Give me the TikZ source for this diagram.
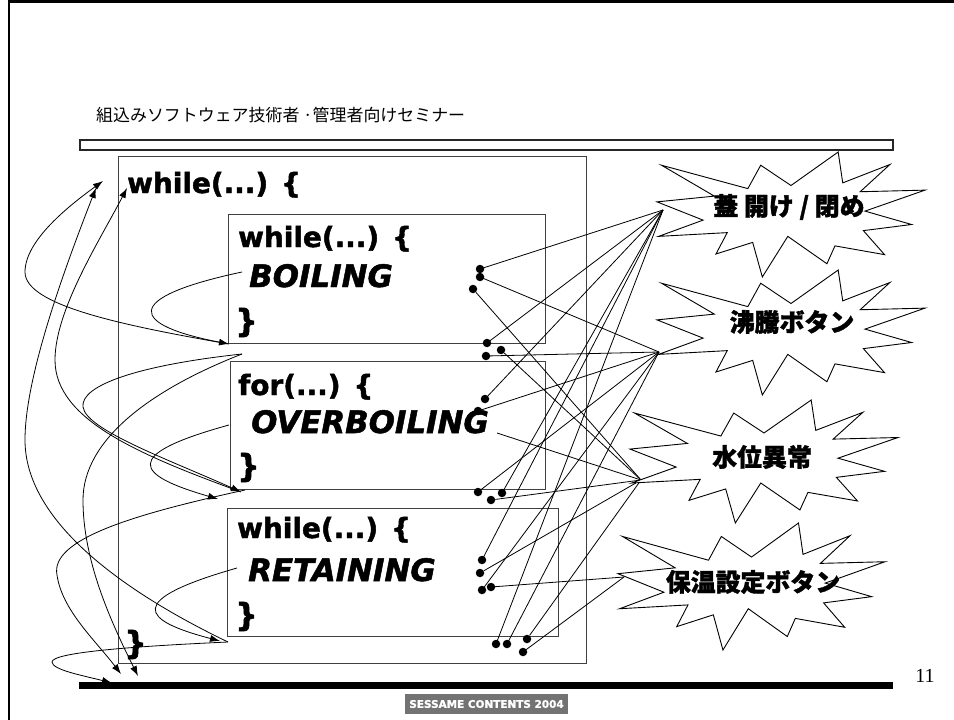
\documentclass[tikz,border=0pt]{standalone}
\usepackage{fontspec}
\usetikzlibrary{arrows.meta}
\newfontfamily\codefont{DejaVu Sans}[BoldFeatures={FakeBold=1.6},BoldItalicFeatures={FakeBold=1.6}]
\newfontfamily\jpfont{Noto Sans CJK JP}[BoldFeatures={FakeBold=1.4}]
\newfontfamily\numfont{Liberation Serif}
\newcommand\explosion[4]{%
  \begin{scope}[shift={(#1,#2)},x=#3bp,y=-#4bp]
    \draw[starline] (0.5,0.268) -- (0.387,0.106) -- (0.339,0.293) -- (0.017,0.106) -- (0.214,0.353) -- (0,0.399) -- (0.172,0.545) -- (0.006,0.675) -- (0.262,0.645) -- (0.220,0.816) -- (0.357,0.723) -- (0.393,1.0) -- (0.488,0.675) -- (0.634,0.894) -- (0.664,0.751) -- (0.849,0.821) -- (0.770,0.629) -- (0.950,0.580) -- (0.776,0.473) -- (1.0,0.305) -- (0.758,0.318) -- (0.869,0.100) -- (0.693,0.247) -- (0.676,0) -- cycle;
  \end{scope}}
\begin{document}
\begin{tikzpicture}[x=1bp,y=-1bp,
  box/.style={draw=black!75,line width=1bp},
  code/.style={inner sep=0pt,anchor=base west,font=\codefont\bfseries\fontsize{28}{30}\selectfont},
  brace/.style={inner sep=0pt,anchor=base west,font=\codefont\bfseries\fontsize{32}{34}\selectfont},
  state/.style={inner sep=0pt,anchor=base west,font=\codefont\bfseries\itshape\fontsize{31}{33}\selectfont},
  evt/.style={inner sep=0pt,font=\jpfont\bfseries\fontsize{25}{27}\selectfont},
  starline/.style={draw=black,fill=white,line width=0.9bp,line join=miter},
  dotn/.style={circle,fill=black,inner sep=0pt,minimum size=8.5bp},
  link/.style={draw=black,line width=0.8bp},
  flow/.style={draw=black,line width=0.8bp,-{Latex[length=10bp,width=7bp]}}]
\useasboundingbox (0,0) rectangle (954,720);
\fill[white] (0,0) rectangle (954,720);
% slide frame
\draw[line width=2.5bp] (9,720) -- (9,1.5) -- (954,1.5);
% title
\node[anchor=west,inner sep=0pt,font=\jpfont\fontsize{17}{19}\selectfont] (title) at (96,115) {組込みソフトウェア技術者 ·管理者向けセミナー};
\draw[line width=1.3bp,draw=black!85] (80,140) rectangle (893,150);
% bottom bar
\fill (79,682) rectangle (893,689);
\node[fill=black!55,text=white,inner sep=0pt,minimum width=163bp,minimum height=20bp,font=\codefont\bfseries\fontsize{10.5}{12}\selectfont] (sess) at (486.5,704) {SESSAME CONTENTS 2004};
\node[inner sep=0pt,font=\numfont\fontsize{20}{22}\selectfont] (pg) at (925,676) {11};
% boxes
\draw[box] (118,157) rectangle (586,663);
\draw[box] (228,214) rectangle (545,343);
\draw[box] (230,361) rectangle (545,489);
\draw[box] (227,508) rectangle (558,636);
% code text
\node[code] (w0) at (127,193) {while(...) \{};
\node[code] (w1) at (238,247) {while(...) \{};
\node[state] (s1) at (249,287) {BOILING};
\node[brace] (c1) at (235,332) {\}};
\node[code] (f2) at (238,395) {for(...) \{};
\node[state] (s2) at (251,433) {OVERBOILING};
\node[brace] (c2) at (237,477) {\}};
\node[code] (w3) at (237,538) {while(...) \{};
\node[state] (s3) at (248,581) {RETAINING};
\node[brace] (c3) at (235,626) {\}};
\node[brace] (c0) at (124,654) {\}};
% flow coordinates
\coordinate (Bst) at (242,272);
\coordinate (E1a) at (229,344);
\coordinate (E1b) at (242,354);
\coordinate (T1) at (103,181);
\coordinate (T2) at (96,188);
\coordinate (T3) at (127,188);
\coordinate (OBst) at (229,425);
\coordinate (E2a) at (218,499);
\coordinate (E2b) at (241,492);
\coordinate (E2c) at (245,490);
\coordinate (Rst) at (237,568);
\coordinate (E3) at (220,641);
\coordinate (E3s) at (228,642);
\coordinate (Bt1) at (112,683);
\coordinate (Bt2) at (121,674);
\coordinate (Bt3) at (138,676);
% flow curves
\draw[flow] (Bst) .. controls (120,298) and (130,325) .. (E1a);
\draw[flow] (E1a) .. controls (120,325) and (25,305) .. (25,272) .. controls (25,240) and (70,205) .. (T1);
\draw[flow] (E3s) .. controls (120,590) and (25,520) .. (25,440) .. controls (25,380) and (60,280) .. (T2);
\draw[flow] (E2b) .. controls (140,455) and (55,420) .. (55,360) .. controls (55,310) and (100,240) .. (T3);
\draw[flow] (E1b) .. controls (140,365) and (80,385) .. (83,407) .. controls (86,430) and (170,460) .. (E2b);
\draw[flow] (E1b) .. controls (150,390) and (83,440) .. (83,500) .. controls (83,560) and (110,620) .. (Bt3);
\draw[flow] (E2c) .. controls (130,515) and (50,540) .. (57,575) .. controls (62,610) and (95,640) .. (Bt2);
\draw[flow] (OBst) .. controls (120,455) and (135,475) .. (E2a);
\draw[flow] (Rst) .. controls (125,600) and (140,620) .. (E3);
\draw[flow] (E3s) .. controls (140,646) and (52,652) .. (52,662) .. controls (52,670) and (85,676) .. (Bt1);
% hubs
\coordinate (H1) at (663,210);
\coordinate (H2) at (659,352);
\coordinate (H3) at (641,480);
\coordinate (H4) at (624,577);
\coordinate (G) at (497,433);
% dots
\node[dotn] (d1) at (480,269) {};
\node[dotn] (d2) at (480,277) {};
\node[dotn] (d3) at (473,289) {};
\node[dotn] (d4) at (487,343) {};
\node[dotn] (d5) at (501,350) {};
\node[dotn] (d6) at (486,356) {};
\node[dotn] (d7) at (485,399) {};
\node[dotn] (d8) at (478,411) {};
\node[dotn] (d9) at (478,492) {};
\node[dotn] (d10) at (502,493) {};
\node[dotn] (d11) at (491,500) {};
\node[dotn] (d12) at (482,560) {};
\node[dotn] (d13) at (480,573) {};
\node[dotn] (d14) at (482,590) {};
\node[dotn] (d15) at (491,587) {};
\node[dotn] (d16) at (496,644) {};
\node[dotn] (d17) at (507,644) {};
\node[dotn] (d18) at (527,639) {};
\node[dotn] (d19) at (523,652) {};
% links
\foreach \d in {d1,d4,d7,d10,d12,d16} \draw[link] (\d.center) -- (H1);
\foreach \d in {d2,d6,d8,d9,d14,d17} \draw[link] (\d.center) -- (H2);
\foreach \d in {d3,d5,G,d11,d13,d18} \draw[link] (\d) -- (H3);
\foreach \d in {d15,d19} \draw[link] (\d.center) -- (H4);
% stars
\explosion{657}{152}{268}{125}
\explosion{657}{270}{268}{125}
\explosion{630}{400}{268}{123}
\explosion{618}{523}{267}{127}
\node[evt] (e1) at (789,207) {蓋 開け / 閉め};
\node[evt] (e2) at (792,322) {沸騰ボタン};
\node[evt] (e3) at (762,457) {水位異常};
\node[evt] (e4) at (753,582) {保温設定ボタン};
\end{tikzpicture}
\end{document}
